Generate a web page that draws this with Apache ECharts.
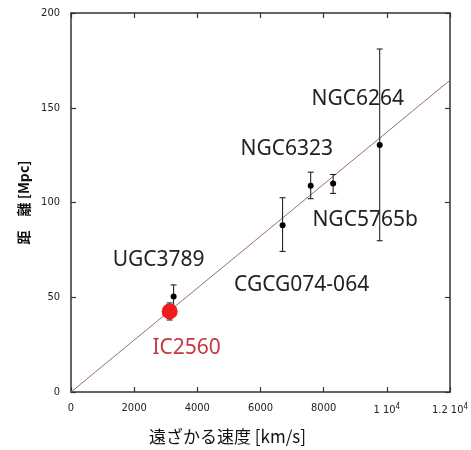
<!DOCTYPE html>
<html>
<head>
<meta charset="utf-8">
<script src="https://cdn.jsdelivr.net/npm/echarts@6/dist/echarts.min.js"></script>
<style>
html, body { margin: 0; padding: 0; background: #fff; }
#chart { width: 471px; height: 450px; }
</style>
</head>
<body>
<div id="chart"></div>
<script>
// galaxies: recession velocity (km/s) vs distance (Mpc)
var names = ['IC2560', 'UGC3789', 'CGCG074-064', 'NGC6323', 'NGC5765b', 'NGC6264'];
var velocity = [3124, 3250, 6700, 7590, 8300, 9775];
var distance = [42.5, 50.4, 88, 108.8, 110, 130.3];
var errLow = [38, 44, 74.2, 102, 104.8, 79.8];
var errHigh = [47, 56.5, 102.5, 116, 114.8, 181];

// fitted Hubble line end points
var fitLine = [[0, 0], [12000, 164.5]];

var xTicks = [0, 2000, 4000, 6000, 8000, 10000, 12000];
var xTickLabels = ['0', '2000', '4000', '6000', '8000', '1 10{sup|4}', '1.2 10{sup|4}'];
var yTicks = [0, 50, 100, 150, 200];

// label placement (pixel offset from the point)
var labelOffset = {
    'IC2560': [17, 37],
    'UGC3789': [-15, -36],
    'CGCG074-064': [19, 60],
    'NGC6323': [-24, -37],
    'NGC5765b': [32, 36],
    'NGC6264': [-22, -46]
};

var axisColor = '#333';
var tickFont = 'DejaVu Sans Condensed';

var points = [], bars = [], redPoint = [];
for (var i = 0; i < names.length; i++) {
    bars.push([velocity[i], errLow[i], errHigh[i]]);
    var item = {
        name: names[i],
        value: [velocity[i], distance[i]],
        label: {
            show: true,
            position: 'inside',
            offset: labelOffset[names[i]],
            formatter: names[i],
            color: names[i] == 'IC2560' ? '#c6393f' : '#222'
        }
    };
    if (names[i] == 'IC2560') {
        redPoint.push(item);
    } else {
        points.push(item);
    }
}

function baseX(pos) {
    return {
        type: 'value', min: 0, max: 12000, interval: 2000, position: pos,
        axisLine: { show: true, onZero: false, lineStyle: { color: axisColor, width: 1.5 } },
        axisTick: { show: true, inside: true, length: 5, lineStyle: { color: axisColor, width: 1.2 } },
        splitLine: { show: false }
    };
}
function baseY(pos) {
    return {
        type: 'value', min: 0, max: 200, interval: 50, position: pos,
        axisLine: { show: true, onZero: false, lineStyle: { color: axisColor, width: 1.5 } },
        axisTick: { show: true, inside: true, length: 5, lineStyle: { color: axisColor, width: 1.2 } },
        splitLine: { show: false }
    };
}

var xBottom = baseX('bottom');
xBottom.name = '遠ざかる速度 [km/s]';
xBottom.nameLocation = 'middle';
xBottom.nameGap = 36;
xBottom.nameTextStyle = { fontFamily: 'Noto Sans CJK JP', fontSize: 17, color: '#111', padding: [0, 66, 0, 0] };
xBottom.axisLabel = {
    margin: 11, fontFamily: tickFont, fontSize: 11, color: '#222',
    formatter: function (v) {
        var k = xTicks.indexOf(v);
        return k >= 0 ? xTickLabels[k] : '';
    },
    rich: { sup: { fontSize: 8, verticalAlign: 'top', padding: [0, 0, 6, 0], fontFamily: tickFont, color: '#222' } }
};
var xTop = baseX('top');
xTop.axisLabel = { show: false };

var yLeft = baseY('left');
yLeft.name = '距　離 [Mpc]';
yLeft.nameLocation = 'middle';
yLeft.nameRotate = 90;
yLeft.nameGap = 40;
yLeft.nameTextStyle = { fontFamily: 'Noto Sans CJK JP', fontSize: 14, fontWeight: 'bold', color: '#111' };
yLeft.axisLabel = {
    margin: 11, fontFamily: tickFont, fontSize: 11, color: '#222',
    formatter: function (v) { return yTicks.indexOf(v) >= 0 ? String(v) : ''; }
};
var yRight = baseY('right');
yRight.axisLabel = { show: false };

var option = {
    backgroundColor: '#fff',
    animation: false,
    grid: { left: 71, right: 18, top: 13, bottom: 56 },
    xAxis: [xBottom, xTop],
    yAxis: [yLeft, yRight],
    textStyle: { fontFamily: 'Noto Sans' },
    series: [{
        name: 'fit',
        type: 'line',
        data: fitLine,
        symbol: 'none',
        lineStyle: { color: '#9a6e6e', width: 1 },
        z: 1
    }, {
        name: 'error',
        type: 'custom',
        data: bars,
        z: 2,
        renderItem: function (params, api) {
            var x = api.value(0);
            var lo = api.coord([x, api.value(1)]);
            var hi = api.coord([x, api.value(2)]);
            var w = 3;
            var st = { stroke: '#111', lineWidth: 1 };
            return {
                type: 'group',
                children: [
                    { type: 'line', shape: { x1: lo[0], y1: lo[1], x2: hi[0], y2: hi[1] }, style: st },
                    { type: 'line', shape: { x1: lo[0] - w, y1: lo[1], x2: lo[0] + w, y2: lo[1] }, style: st },
                    { type: 'line', shape: { x1: hi[0] - w, y1: hi[1], x2: hi[0] + w, y2: hi[1] }, style: st }
                ]
            };
        }
    }, {
        name: 'galaxies',
        type: 'scatter',
        data: points,
        symbol: 'circle',
        symbolSize: 6,
        itemStyle: { color: '#000', opacity: 1 },
        label: { fontFamily: 'Noto Sans', fontSize: 21 },
        z: 3
    }, {
        name: 'IC2560',
        type: 'scatter',
        data: redPoint,
        symbol: 'circle',
        symbolSize: 16,
        itemStyle: { color: '#f01c1c', opacity: 1 },
        label: { fontFamily: 'Noto Sans', fontSize: 21 },
        z: 4
    }]
};

var myChart = echarts.init(document.getElementById('chart'));
myChart.setOption(option);
</script>
</body>
</html>
